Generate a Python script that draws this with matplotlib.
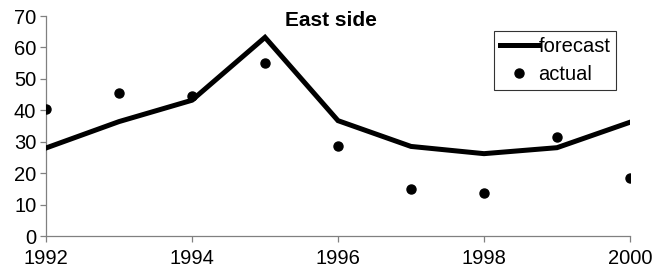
import numpy as np
import matplotlib.pyplot as plt

plt.rcParams['font.family'] = ['Liberation Sans', 'DejaVu Sans']

# data
years = [1992, 1993, 1994, 1995, 1996, 1997, 1998, 1999, 2000]
forecast = [28.0, 36.4, 43.2, 63.2, 36.7, 28.5, 26.2, 28.1, 36.2]
actual = [40.4, 45.6, 44.6, 54.9, 28.7, 15.0, 13.6, 31.4, 18.6]

W, H = 654, 276
fig = plt.figure(figsize=(W / 100, H / 100), dpi=100)
ax = fig.add_axes([46 / W, 40 / H, (630 - 46) / W, (236 - 16) / H])

ax.plot(years, forecast, color='black', lw=3.6, solid_joinstyle='miter', label='forecast', zorder=3)
ax.plot(years, actual, 'o', color='black', ms=6.5, label='actual', zorder=4)

ax.set_xlim(1992, 2000)
ax.set_ylim(0, 70)
ax.set_xticks(range(1992, 2001, 2))
ax.set_yticks(range(0, 71, 10))
for s in ['top', 'right']:
    ax.spines[s].set_visible(False)
for s in ['left', 'bottom']:
    ax.spines[s].set_color('#808080')
    ax.spines[s].set_linewidth(0.9)
ax.tick_params(colors='#808080', labelcolor='black', labelsize=14.5, length=4, width=0.9)
ax.tick_params(axis='x', pad=5)
ax.tick_params(axis='y', pad=3)

# title sits inside the plot area
fig.text(331 / W, 1 - 20 / H, 'East side', ha='center', va='center',
         fontsize=15, fontweight='bold')

leg = ax.legend(loc='upper left', bbox_to_anchor=(494 / W, 1 - 31 / H),
                bbox_transform=fig.transFigure, frameon=True, fancybox=False,
                edgecolor='black', fontsize=14.5, borderpad=0.3,
                handlelength=1.9, handletextpad=0.0, labelspacing=0.45,
                borderaxespad=0)
leg.get_frame().set_linewidth(0.8)

fig.savefig('out.png', dpi=100)
